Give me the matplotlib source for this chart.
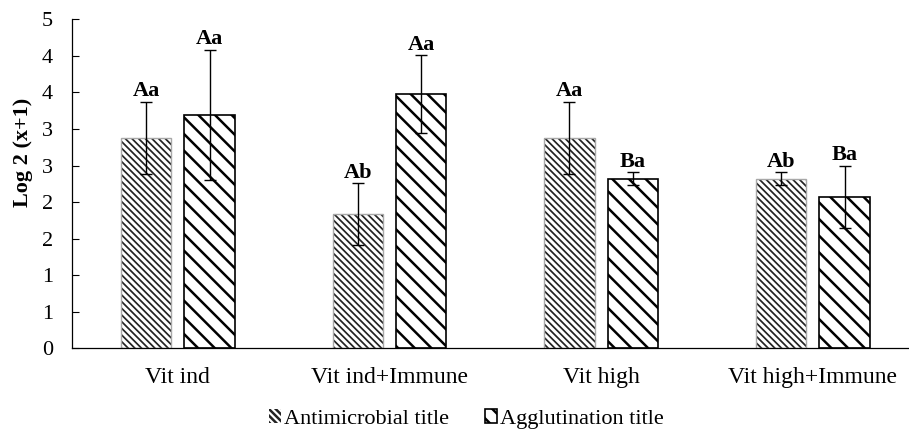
import numpy as np
import matplotlib
matplotlib.use("Agg")
import matplotlib.pyplot as plt

# data
groups = ["Vit ind", "Vit ind+Immune", "Vit high", "Vit high+Immune"]
antimicrobial = [2.88, 1.84, 2.88, 2.32]
antimicrobial_err = [0.49, 0.42, 0.49, 0.09]
antimicrobial_letters = ["Aa", "Ab", "Aa", "Ab"]
agglutination = [3.19, 3.48, 2.32, 2.07]
agglutination_err = [0.89, 0.53, 0.09, 0.43]
agglutination_letters = ["Aa", "Aa", "Ba", "Ba"]
ytick_values = [0, 0.5, 1, 1.5, 2, 2.5, 3, 3.5, 4, 4.5]
ytick_labels = ["0", "1", "1", "2", "2", "3", "3", "4", "4", "5"]

plt.rcParams["font.family"] = ["Liberation Serif", "DejaVu Serif"]
plt.rcParams["font.size"] = 16

fig = plt.figure(figsize=(9.09, 4.32), dpi=100)
ax = fig.add_axes([0.0792, 0.1937, 0.9208, 0.7616])

x = np.arange(len(groups))
w = 0.238
off = 0.15

# antimicrobial: thin dense dark stripes, light grey outline drawn on top
plt.rcParams["hatch.linewidth"] = 1.25
b1 = ax.bar(x - off, antimicrobial, w, color="white", edgecolor="#222222",
            linewidth=0, hatch="\\" * 5, label="Antimicrobial title")
for p in b1:
    if hasattr(p, "set_hatch_linewidth"):
        p.set_hatch_linewidth(1.25)
ax.bar(x - off, antimicrobial, w, fill=False, edgecolor="#a8a8a8", linewidth=1.0)

# agglutination: thick black stripes
plt.rcParams["hatch.linewidth"] = 1.8
b2 = ax.bar(x + off, agglutination, w, color="white", edgecolor="black",
            linewidth=1.2, hatch="\\\\", label="Agglutination title")
for p in b2:
    if hasattr(p, "set_hatch_linewidth"):
        p.set_hatch_linewidth(1.8)

# error bars
ax.errorbar(x - off, antimicrobial, yerr=antimicrobial_err, fmt="none",
            ecolor="black", elinewidth=1.0, capsize=4, capthick=1.0)
ax.errorbar(x + off, agglutination, yerr=agglutination_err, fmt="none",
            ecolor="black", elinewidth=1.0, capsize=4, capthick=1.0)

# letters above the error bars
for xi, v, e, t in zip(x - off, antimicrobial, antimicrobial_err, antimicrobial_letters):
    ax.annotate(t, (xi, v + e), xytext=(0, 4), textcoords="offset points",
                ha="center", va="baseline", fontweight="bold", fontsize=16)
for xi, v, e, t in zip(x + off, agglutination, agglutination_err, agglutination_letters):
    ax.annotate(t, (xi, v + e), xytext=(0, 4), textcoords="offset points",
                ha="center", va="baseline", fontweight="bold", fontsize=16)

ax.set_xlim(-0.5, 3.454)
ax.set_ylim(0, 4.5)
ax.set_xticks(x)
ax.set_xticklabels(groups, fontsize=17)
ax.set_yticks(ytick_values)
ax.set_yticklabels(ytick_labels)
ax.tick_params(axis="x", length=0, pad=13.5)
ax.tick_params(axis="y", direction="in", length=5, width=0.8, pad=13.5)

for s in ["top", "right"]:
    ax.spines[s].set_visible(False)
for s in ["left", "bottom"]:
    ax.spines[s].set_linewidth(0.9)
    ax.spines[s].set_color("black")

ax.set_ylabel("Log 2 (x+1)", fontweight="bold", fontsize=16)
ax.yaxis.set_label_coords(-0.046, 0.595)

fig.legend(handles=[b1, b2], loc="center", bbox_to_anchor=(0.513, 0.03),
           ncol=2, frameon=False, fontsize=16, handlelength=0.55,
           handleheight=0.55, handletextpad=0.15, columnspacing=1.6,
           borderpad=0.1)

plt.savefig("out.png", dpi=100)
